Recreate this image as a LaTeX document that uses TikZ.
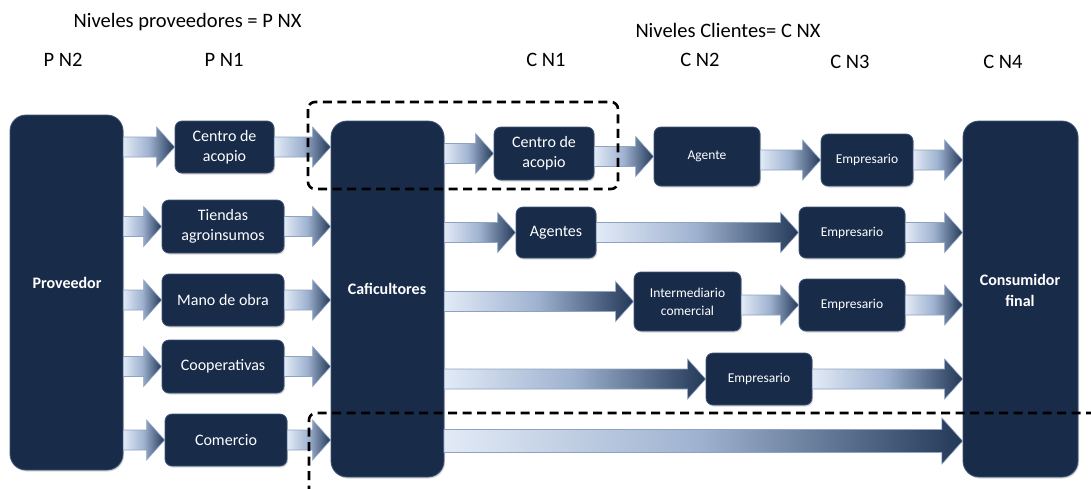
\documentclass[tikz,border=0pt]{standalone}
\usepackage{fontspec}
\setmainfont{Carlito}
\usetikzlibrary{calc,shadows}
\definecolor{navy}{HTML}{182B49}
\definecolor{navyline}{HTML}{3E5478}
\definecolor{arrlight}{HTML}{E2EAF6}
\definecolor{arrmid}{HTML}{9DB1CF}
\definecolor{arrdark}{HTML}{243958}
\definecolor{arrline}{HTML}{8EA3C2}
\tikzset{
  box/.style={draw=navyline, line width=0.8pt, fill=navy, rounded corners=7pt,
    text=white, align=center, inner sep=0pt,
    drop shadow={shadow xshift=1pt, shadow yshift=-1.5pt, opacity=0.3}},
  bigbox/.style={box, rounded corners=16pt},
  fA/.style={font=\fontsize{16}{20}\selectfont},
  fB/.style={font=\fontsize{13.5}{18}\selectfont},
  fbold/.style={font=\fontsize{16}{21}\selectfont\bfseries, text=white, align=center},
  hdr/.style={font=\fontsize{20.5}{24}\selectfont, inner sep=0pt},
  fatarrow/.style={draw=arrline, line width=0.6pt, left color=arrlight, right color=arrdark, middle color=arrmid},
  dashline/.style={draw=black, line width=2.6pt, dash pattern=on 9pt off 5.5pt, rounded corners=7pt}
}
\newcommand\fatarr[3][10]{%
  \path[fatarrow] let \p1=#2, \p2=#3 in
    (\x1,\y1+#1pt) -- (\x2-1.8*#1pt,\y1+#1pt) -- (\x2-1.8*#1pt,\y1+2*#1pt) -- (\x2,\y1)
    -- (\x2-1.8*#1pt,\y1-2*#1pt) -- (\x2-1.8*#1pt,\y1-#1pt) -- (\x1,\y1-#1pt) -- cycle;}
\begin{document}
\begin{tikzpicture}[x=1pt,y=-1pt]
\useasboundingbox (0,0) rectangle (1091,488);
% headers
\node[hdr] (tp) at (187.5,22) {Niveles proveedores = P NX};
\node[hdr] (tc) at (728,30) {Niveles Clientes= C NX};
\node[hdr] (pn2) at (63,60) {P N2};
\node[hdr] (pn1) at (224,60) {P N1};
\node[hdr] (cn1) at (546,60) {C N1};
\node[hdr] (cn2) at (700,60) {C N2};
\node[hdr] (cn3) at (850,62) {C N3};
\node[hdr] (cn4) at (1003,62) {C N4};
% big boxes
\node[bigbox, minimum width=113pt, minimum height=355pt] (prov) at (66.5,292.5) {};
\node[fbold] (provt) at (67,283) {Proveedor};
\node[bigbox, minimum width=113pt, minimum height=356pt] (caf) at (387.5,299) {};
\node[fbold] (caft) at (387,289) {Caficultores};
\node[bigbox, minimum width=115pt, minimum height=356pt] (cons) at (1020.5,299) {};
\node[fbold] (const) at (1020,290) {Consumidor\\final};
% supplier boxes
\node[box, fA, minimum width=99pt, minimum height=52pt] (pca) at (224.5,147) {Centro de\\acopio};
\node[box, fA, minimum width=122pt, minimum height=53pt] (pti) at (223,226.5) {Tiendas\\agroinsumos};
\node[box, fA, minimum width=122pt, minimum height=52pt] (pmo) at (223,300) {Mano de obra};
\node[box, fA, minimum width=122pt, minimum height=53pt] (pco) at (223,366.5) {Cooperativas};
\node[box, fA, minimum width=122pt, minimum height=52pt] (pcm) at (226,440) {Comercio};
% client boxes
\node[box, fA, minimum width=100pt, minimum height=53pt] (cca) at (544,153.5) {Centro de\\acopio};
\node[box, fB, minimum width=106pt, minimum height=59pt] (cag) at (707,156.5) {Agente};
\node[box, fB, minimum width=92pt, minimum height=52pt] (ce1) at (867,160) {Empresario};
\node[box, fA, minimum width=80pt, minimum height=51pt] (cags) at (556,232.5) {Agentes};
\node[box, fB, minimum width=106pt, minimum height=51pt] (ce2) at (852,232.5) {Empresario};
\node[box, fB, minimum width=107pt, minimum height=59pt] (cin) at (687.5,301.5) {Intermediario\\comercial};
\node[box, fB, minimum width=106pt, minimum height=52pt] (ce3) at (852,305) {Empresario};
\node[box, fB, minimum width=106pt, minimum height=52pt] (ce4) at (759,379) {Empresario};
% supplier arrows
\fatarr{(prov.east |- pca.west)}{(pca.west)}
\fatarr{(prov.east |- pti.west)}{(pti.west)}
\fatarr{(prov.east |- pmo.west)}{(pmo.west)}
\fatarr{(prov.east |- pco.west)}{(pco.west)}
\fatarr{(prov.east |- pcm.west)}{(pcm.west)}
\fatarr{(pca.east)}{(caf.west |- pca.east)}
\fatarr{(pti.east)}{(caf.west |- pti.east)}
\fatarr{(pmo.east)}{(caf.west |- pmo.east)}
\fatarr{(pco.east)}{(caf.west |- pco.east)}
\fatarr{(pcm.east)}{(caf.west |- pcm.east)}
% client arrows
\fatarr{(caf.east |- cca.west)}{(cca.west)}
\fatarr{(cca.east |- cag.west)}{(cag.west)}
\fatarr{(cag.east |- ce1.west)}{(ce1.west)}
\fatarr{(ce1.east)}{(cons.west |- ce1.east)}
\fatarr{(caf.east |- cags.west)}{(cags.west)}
\fatarr{(cags.east |- ce2.west)}{(ce2.west)}
\fatarr{(ce2.east)}{(cons.west |- ce2.east)}
\fatarr{(caf.east |- cin.west)}{(cin.west)}
\fatarr{(cin.east |- ce3.west)}{(ce3.west)}
\fatarr{(ce3.east)}{(cons.west |- ce3.east)}
\fatarr{(caf.east |- ce4.west)}{(ce4.west)}
\fatarr{(ce4.east)}{(cons.west |- ce4.east)}
\coordinate (r5) at (444,441);
\fatarr[11.5]{(r5)}{(cons.west |- r5)}
% dashed frames
\draw[dashline] (308,102) rectangle (618,189);
\draw[dashline] (1095,413) -- (309,413) -- (309,492);
\end{tikzpicture}
\end{document}
